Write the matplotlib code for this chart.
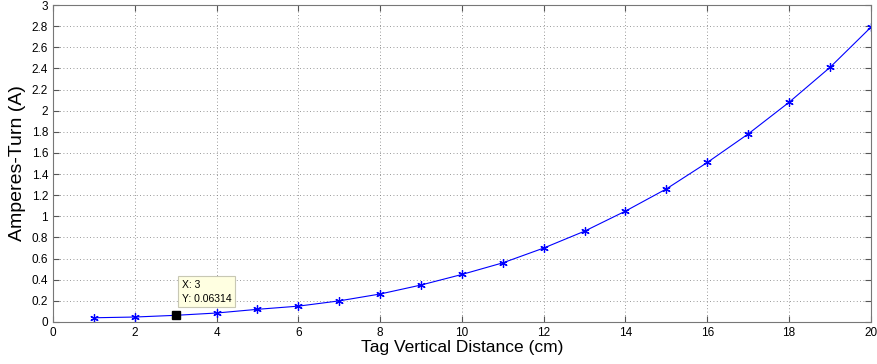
import matplotlib
matplotlib.use("Agg")
import matplotlib.pyplot as plt

# distance (cm) vs current
distance = [1, 2, 3, 4, 5, 6, 7, 8, 9, 10, 11, 12, 13, 14, 15, 16, 17, 18, 19, 20]
amps = [0.040, 0.047, 0.06314, 0.085, 0.12, 0.15, 0.20, 0.265, 0.35, 0.45,
        0.56, 0.70, 0.86, 1.05, 1.26, 1.51, 1.78, 2.08, 2.41, 2.79]
xticks = list(range(0, 21, 2))
yticks = [i / 10 for i in range(0, 31, 2)]

plt.rcParams['font.family'] = ['Liberation Sans', 'DejaVu Sans']

fig = plt.figure(figsize=(8.77, 3.64), dpi=100)
ax = fig.add_axes([0.0604, 0.1154, 0.9326, 0.8706])

ax.plot(distance, amps, color="#0000ff", lw=0.8, marker=(6, 2, 0), ms=6, mew=0.9)

# data tip at x=3
ax.plot(distance[2], amps[2], "s", color="black", ms=6, zorder=5)
ax.text(3.15, 0.40, "X: 3\nY: %.5f" % amps[2], fontsize=7.5, va="top", ha="left",
        linespacing=1.5,
        bbox=dict(boxstyle="square,pad=0.35", facecolor="#ffffe1", edgecolor="#c8c8b4", lw=0.8),
        zorder=6)

ax.set_xlim(0, 20)
ax.set_ylim(0, 3)
ax.set_xticks(xticks)
ax.set_yticks(yticks)
ax.set_yticklabels(["%g" % v for v in yticks])
ax.tick_params(direction="in", top=True, right=True, labelsize=8.5, length=4, color="#555555")
ax.grid(True, linestyle=(0, (1, 3)), color="#777777", lw=0.6)
for s in ax.spines.values():
    s.set_color("#777777")

ax.set_xlabel("Tag Vertical Distance (cm)", fontsize=12.5, labelpad=1)
ax.set_ylabel("Amperes-Turn (A)", fontsize=14, labelpad=4)

fig.savefig("out.png", dpi=100)
